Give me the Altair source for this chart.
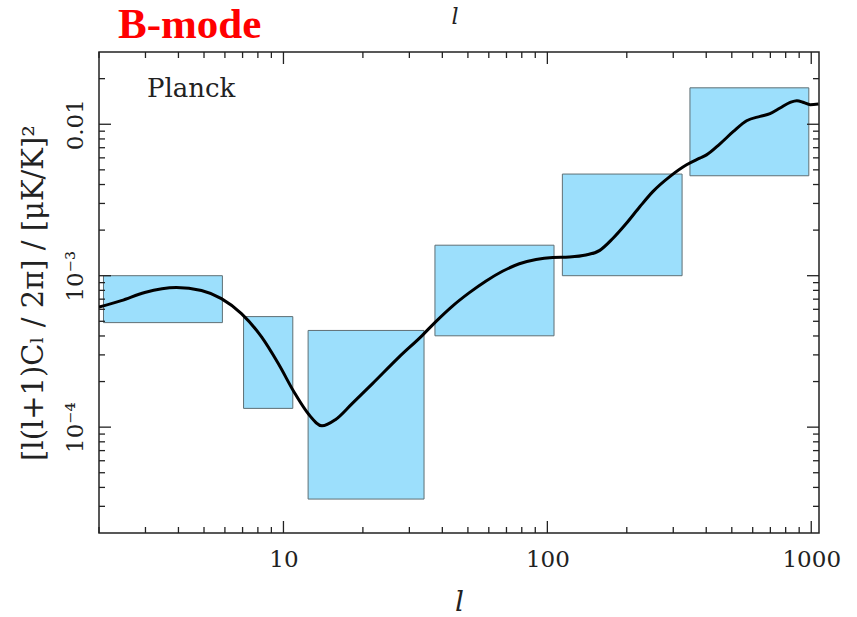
import altair as alt
import pandas as pd

# ---- data ----
box_l_lo = [2.08, 7.06, 12.4, 37.5, 114, 347]
box_l_hi = [5.87, 10.85, 34.1, 106, 324, 979]
box_lo = [4.9e-4, 1.33e-4, 3.35e-5, 4.01e-4, 1.0e-3, 4.57e-3]
box_hi = [1.0e-3, 5.37e-4, 4.35e-4, 1.59e-3, 4.69e-3, 1.74e-2]

curve_l = [2.0, 2.43, 2.98, 3.93, 4.89, 5.82, 6.93, 8.26, 9.57, 11.07, 12.44,
           13.99, 15.73, 18.2, 21.7, 27.4, 33.6, 37.8, 43.6, 50.5, 58.4, 67.6,
           78.3, 90.6, 104.7, 121, 140, 158, 177, 199, 224, 251, 291, 337, 378,
           401, 451, 507, 569, 640, 698, 762, 832, 882, 936, 991, 1065]
curve_v = [6.21e-4, 6.85e-4, 7.75e-4, 8.36e-4, 7.98e-4, 7.06e-4, 5.62e-4,
           3.94e-4, 2.62e-4, 1.66e-4, 1.22e-4, 1.02e-4, 1.12e-4, 1.43e-4,
           1.93e-4, 2.90e-4, 4.04e-4, 4.98e-4, 6.28e-4, 7.70e-4, 9.2e-4,
           1.07e-3, 1.20e-3, 1.28e-3, 1.32e-3, 1.33e-3, 1.37e-3, 1.47e-3,
           1.76e-3, 2.21e-3, 2.85e-3, 3.59e-3, 4.51e-3, 5.40e-3, 5.97e-3,
           6.28e-3, 7.43e-3, 8.96e-3, 0.01055, 0.01127, 0.01175, 0.0128,
           0.01393, 0.01432, 0.01393, 0.01346, 0.0136]

x_major = [10, 100, 1000]
x_minor = [2, 3, 4, 5, 6, 7, 8, 9, 20, 30, 40, 50, 60, 70, 80, 90,
           200, 300, 400, 500, 600, 700, 800, 900]
y_major = [1e-4, 1e-3, 1e-2]
y_minor = [3e-5, 4e-5, 5e-5, 6e-5, 7e-5, 8e-5, 9e-5,
           2e-4, 3e-4, 4e-4, 5e-4, 6e-4, 7e-4, 8e-4, 9e-4,
           2e-3, 3e-3, 4e-3, 5e-3, 6e-3, 7e-3, 8e-3, 9e-3, 2e-2]

x_domain = [2, 1070]
y_domain = [2e-5, 0.03]

W, H = 720, 481
FONT = "DejaVu Serif"
INK = "#222222"
MAJ, MIN = 12, 6

xscale = alt.Scale(type="log", domain=x_domain, nice=False)
yscale = alt.Scale(type="log", domain=y_domain, nice=False)

xaxis = alt.Axis(values=x_major, format="d", title="l", grid=False, ticks=False,
                 tickSize=0, domain=False, labelFont=FONT, labelFontSize=23,
                 labelColor=INK, labelPadding=15, titleFont=FONT,
                 titleFontSize=28, titleFontStyle="italic",
                 titleFontWeight="normal", titleColor=INK, titleX=W / 2,
                 titleY=77, titleBaseline="alphabetic", titleAlign="center")
yaxis = alt.Axis(values=y_major,
                 labelExpr="datum.value < 0.0005 ? '10\u207b\u2074' : (datum.value < 0.005 ? '10\u207b\u00b3' : '0.01')",
                 title="[l(l+1)C\u2097 / 2\u03c0] / [\u03bcK/K]\u00b2",
                 grid=False, ticks=False, tickSize=0, domain=False,
                 labelFont=FONT, labelFontSize=23, labelColor=INK,
                 labelAngle=270, labelAlign="center",
                 labelBaseline="alphabetic", labelPadding=17,
                 titleFont=FONT, titleFontSize=29, titleFontWeight="normal",
                 titleColor=INK, titleAngle=270, titleX=-57, titleY=H / 2,
                 titleBaseline="alphabetic", titleAlign="center")


def X(field):
    return alt.X(field, type="quantitative", scale=xscale, axis=xaxis)


def Y(field):
    return alt.Y(field, type="quantitative", scale=yscale, axis=yaxis)


boxes = pd.DataFrame({"l_lo": box_l_lo, "l_hi": box_l_hi,
                      "lo": box_lo, "hi": box_hi})
curve = pd.DataFrame({"l": curve_l, "v": curve_v})

rects = alt.Chart(boxes).mark_rect(
    fill="#9CDFFC", stroke="#5f6f74", strokeWidth=1
).encode(x=X("l_lo"), x2="l_hi", y=Y("lo"), y2="hi")

line = alt.Chart(curve).mark_line(
    color="black", strokeWidth=3, interpolate="monotone", clip=True
).encode(x=X("l"), y=Y("v"))


def xticks(vals, length):
    d = pd.DataFrame({"t": vals})
    bottom = alt.Chart(d).mark_rule(color=INK, strokeWidth=1.3).encode(
        x=X("t"), y=alt.value(H), y2=alt.value(H - length))
    top = alt.Chart(d).mark_rule(color=INK, strokeWidth=1.3).encode(
        x=X("t"), y=alt.value(0), y2=alt.value(length))
    return [bottom, top]


def yticks(vals, length):
    d = pd.DataFrame({"t": vals})
    left = alt.Chart(d).mark_rule(color=INK, strokeWidth=1.3).encode(
        y=Y("t"), x=alt.value(0), x2=alt.value(length))
    right = alt.Chart(d).mark_rule(color=INK, strokeWidth=1.3).encode(
        y=Y("t"), x=alt.value(W), x2=alt.value(W - length))
    return [left, right]


def label(text, x, y, size, **kw):
    return alt.Chart(pd.DataFrame({"t": [text]})).mark_text(
        fontSize=size, align=kw.pop("align", "left"), baseline="alphabetic",
        **kw).encode(text="t", x=alt.value(x), y=alt.value(y))


title = label("B-mode", 19, -14, 43, font="Liberation Serif",
              fontWeight="bold", color="#ff0000")
planck = label("Planck", 48, 45, 26, font=FONT, color=INK)
top_l = label("l", 356, -28, 22, font=FONT, fontStyle="italic",
              color=INK, align="center")

layers = [rects, line] + xticks(x_major, MAJ) + xticks(x_minor, MIN) \
    + yticks(y_major, MAJ) + yticks(y_minor, MIN) + [title, planck, top_l]

chart = alt.layer(*layers).properties(
    width=W, height=H,
    autosize=alt.AutoSizeParams(type="none"),
    padding={"left": 99, "top": 52, "right": 38, "bottom": 84},
    background="white",
).configure_view(stroke=INK, strokeWidth=1.5)

chart.save("out.html", embed_options={"renderer": "svg", "actions": False})
